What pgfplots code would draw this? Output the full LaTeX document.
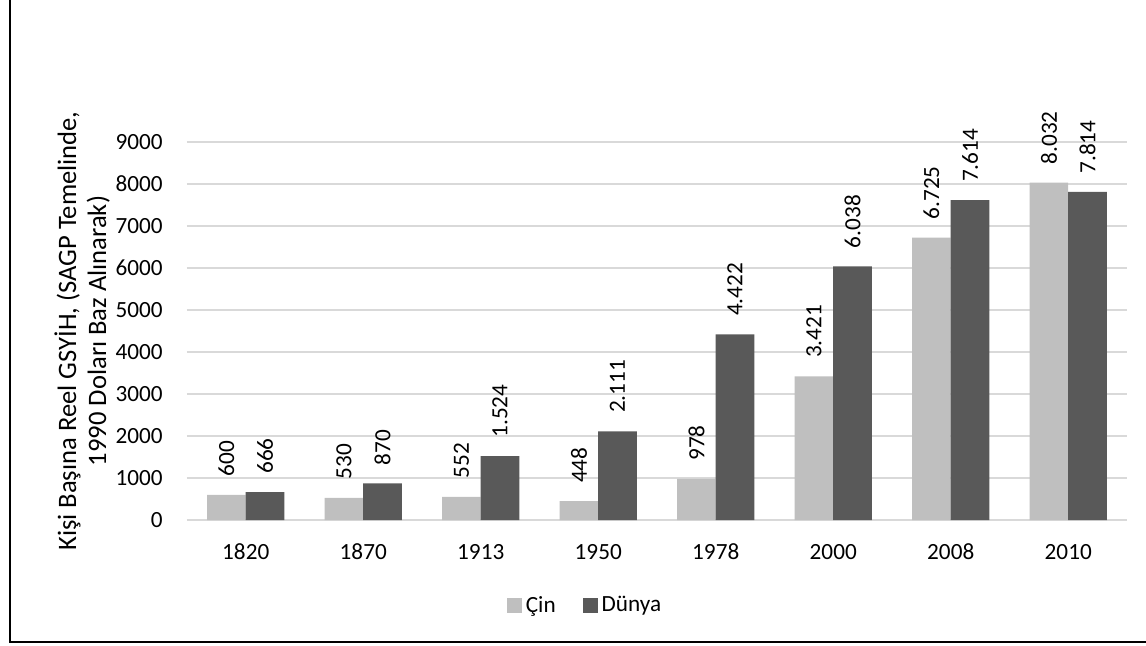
\documentclass[border=0pt]{standalone}
\usepackage{fontspec}
\setmainfont{Carlito}
\usepackage{pgfplots}
\pgfplotsset{compat=1.18}

\definecolor{cin}{HTML}{BFBFBF}
\definecolor{dunya}{HTML}{595959}
\definecolor{gridc}{HTML}{D9D9D9}

\begin{document}
\fontsize{11.6}{14}\selectfont
\begin{tikzpicture}
\useasboundingbox (-93.5pt,-62.5pt) rectangle (479.5pt,260pt);
\draw[line width=1pt] (-88.5pt,265pt) -- (-88.5pt,-61pt) -- (485pt,-61pt);
\begin{axis}[
    at={(0,0)}, anchor=south west,
    scale only axis,
    width=470pt, height=189pt,
    ybar=0pt, bar width=0.328,
    xmin=-0.5, xmax=7.5,
    ymin=0, ymax=9000,
    ytick={0,1000,...,9000},
    xtick={0,...,7},
    xticklabels={1820,1870,1913,1950,1978,2000,2008,2010},
    axis line style={draw=none},
    ymajorgrids,
    grid style={gridc, line width=0.7pt},
    major tick length=0pt,
    /pgf/number format/assume math mode=true,
    /pgf/number format/1000 sep={},
    yticklabel style={anchor=east, inner sep=0pt, xshift=-12pt},
    xticklabel style={anchor=base, inner sep=0pt, yshift=-19.75pt},
    ylabel={Kişi Başına Reel GSYİH, (SAGP Temelinde,\\1990 Doları Baz Alınarak)},
    ylabel style={at={(axis description cs:0,0.5)}, anchor=center, yshift=52.5pt,
        align=center, font=\fontsize{13.3}{15}\selectfont},
    clip=false,
    nodes near coords,
    nodes near coords style={rotate=90, anchor=west, inner xsep=9pt, inner ysep=0pt,
        /pgf/number format/1000 sep={.}, text=black},
    legend columns=2,
    legend style={at={(rel axis cs:0.4245,-0.2275)}, anchor=center, draw=none,
        fill=none, inner sep=0pt,
        /tikz/every even column/.append style={column sep=11.5pt}},
    legend cell align=left,
]
\addplot[fill=cin, draw=none,
    legend image code/.code={\fill[cin] (0pt,-3.75pt) rectangle (7.5pt,3.75pt);}]
    coordinates {(0,600) (1,530) (2,552) (3,448) (4,978) (5,3421) (6,6725) (7,8032)};
\addlegendentry{Çin}
\addplot[fill=dunya, draw=none,
    legend image code/.code={\fill[dunya] (0pt,-3.75pt) rectangle (7.5pt,3.75pt);}]
    coordinates {(0,666) (1,870) (2,1524) (3,2111) (4,4422) (5,6038) (6,7614) (7,7814)};
\addlegendentry{Dünya}
\end{axis}
\end{tikzpicture}
\end{document}
